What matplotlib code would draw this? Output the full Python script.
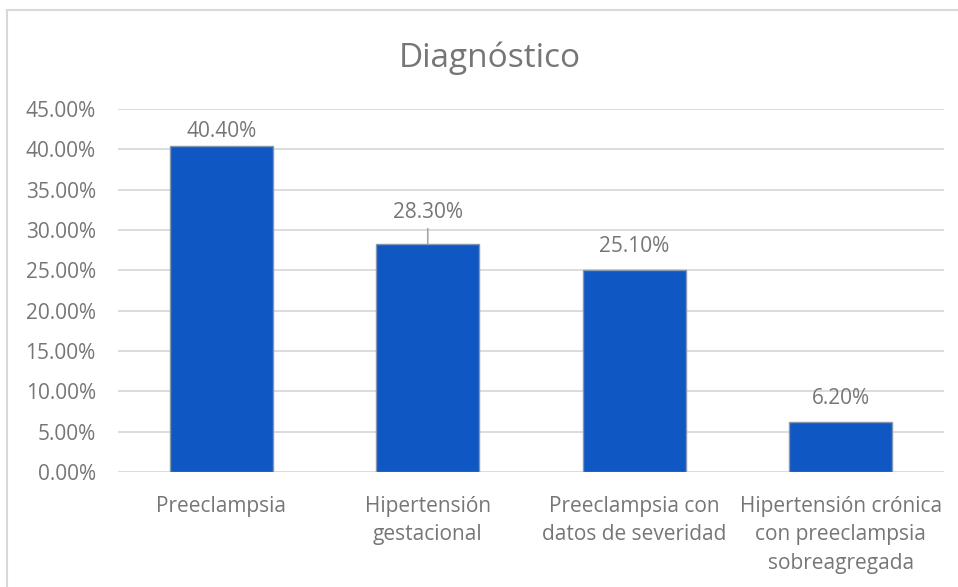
import matplotlib.pyplot as plt
from matplotlib.patches import Rectangle
from matplotlib.ticker import PercentFormatter, MultipleLocator

categories = [
    "Preeclampsia",
    "Hipertensión\ngestacional",
    "Preeclampsia con\ndatos de severidad",
    "Hipertensión crónica\ncon preeclampsia\nsobreagregada",
]
values = [0.404, 0.283, 0.251, 0.062]
value_labels = ["40.40%", "28.30%", "25.10%", "6.20%"]

TEXT = "#767676"
BAR = "#0F57C2"
GRID = "#D9D9D9"

plt.rcParams["font.family"] = ["Open Sans", "DejaVu Sans"]

fig = plt.figure(figsize=(9.58, 5.87), dpi=100)
ax = fig.add_axes([0.1232, 0.1959, 0.8622, 0.6184])

x = range(len(categories))
ax.bar(x, values, width=0.5, color=BAR, edgecolor="#8497B0", linewidth=1.0, zorder=3)

ax.set_xlim(-0.5, len(categories) - 0.5)
ax.set_ylim(0, 0.45)
ax.yaxis.set_major_locator(MultipleLocator(0.05))
ax.yaxis.set_major_formatter(PercentFormatter(xmax=1, decimals=2))
ax.grid(axis="y", color=GRID, linewidth=1.3, zorder=0)
for s in ax.spines.values():
    s.set_visible(False)
ax.tick_params(axis="both", length=0, colors=TEXT, labelsize=15)
ax.tick_params(axis="y", pad=16)
ax.tick_params(axis="x", pad=17)
ax.set_xticks(list(x))
ax.set_xticklabels(categories, linespacing=1.48)

# data labels; the second one sits higher with a leader line
offsets = [15, 31, 23, 23]
for i, (v, lab, off) in enumerate(zip(values, value_labels, offsets)):
    ax.annotate(lab, (i, v), xytext=(0, off), textcoords="offset pixels",
                ha="center", va="center", color=TEXT, fontsize=15)
ax.annotate("", (1, values[1]), xytext=(0, 15), textcoords="offset pixels",
            arrowprops=dict(arrowstyle="-", color="#A6A6A6", lw=1.2,
                            shrinkA=0, shrinkB=0))

fig.text(0.511, 0.9, "Diagnóstico", ha="center", va="center",
         color=TEXT, fontsize=24)

fig.patches.append(Rectangle((7 / 958, -0.1), 1.2, 1 - 10 / 587 + 0.1,
                             transform=fig.transFigure, fill=False,
                             edgecolor=GRID, linewidth=1.5))

fig.savefig("out.png", dpi=100)
